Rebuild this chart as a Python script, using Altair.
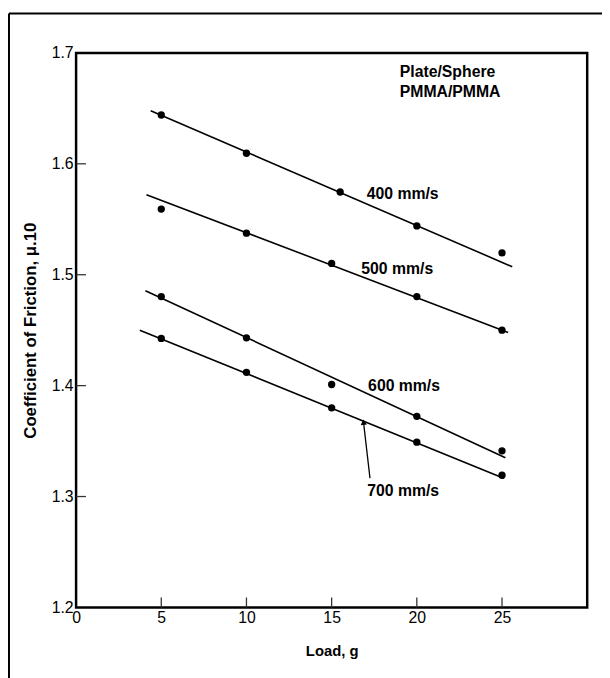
import altair as alt
import pandas as pd

# ---- data ----
load_400 = [5, 10, 15.5, 20, 25]
cof_400 = [1.644, 1.6095, 1.5746, 1.544, 1.5197]
load_500 = [5, 10, 15, 20, 25]
cof_500 = [1.5592, 1.5375, 1.5102, 1.4803, 1.450]
load_600 = [5, 10, 15, 20, 25]
cof_600 = [1.4803, 1.4431, 1.401, 1.3723, 1.3412]
load_700 = [5, 10, 15, 20, 25]
cof_700 = [1.4426, 1.412, 1.380, 1.349, 1.3192]

fit_series = ["400", "500", "600", "700"]
fit_x_start = [4.38, 4.13, 4.07, 3.74]
fit_y_start = [1.6478, 1.5722, 1.4856, 1.45]
fit_x_end = [25.6, 25.36, 25.2, 25.1]
fit_y_end = [1.5072, 1.448, 1.335, 1.3165]

label_text = ["400 mm/s", "500 mm/s", "600 mm/s", "700 mm/s"]
label_x = [19.17, 18.85, 19.25, 19.2]
label_y = [1.573, 1.505, 1.40, 1.3053]

note_lines = ["Plate/Sphere", "PMMA/PMMA"]
note_x = [19.0, 19.0]
note_y = [1.683, 1.665]

arrow_x = [17.25, 16.87]
arrow_y = [1.3166, 1.3671]

x_tick_values = [0, 5, 10, 15, 20, 25]
y_tick_values = [1.2, 1.3, 1.4, 1.5, 1.6, 1.7]
x_inner_ticks = [5, 10, 15, 20, 25]
y_inner_ticks = [1.3, 1.4, 1.5, 1.6]

FONT = "Liberation Sans"
W, H = 518, 562

points = pd.DataFrame({
    "x": load_400 + load_500 + load_600 + load_700,
    "y": cof_400 + cof_500 + cof_600 + cof_700,
})
fits = pd.DataFrame({"s": fit_series, "x": fit_x_start, "y": fit_y_start,
                     "x2": fit_x_end, "y2": fit_y_end})
labels = pd.DataFrame({"t": label_text, "x": label_x, "y": label_y})
notes = pd.DataFrame({"t": note_lines, "x": note_x, "y": note_y})
arrow = pd.DataFrame({"x": [arrow_x[0]], "y": [arrow_y[0]],
                      "x2": [arrow_x[1]], "y2": [arrow_y[1]]})
arrow_head = pd.DataFrame({"x": [arrow_x[1]], "y": [arrow_y[1]]})

xs = alt.Scale(domain=[0, 30], nice=False, zero=False)
ys = alt.Scale(domain=[1.2, 1.7], nice=False, zero=False)

x_axis = alt.Axis(values=x_tick_values, format="d", ticks=False, domain=False,
                  grid=False, labelFont=FONT, labelFontSize=16, labelColor="black",
                  labelPadding=2, labelFlush=False, labelOverlap=False,
                  title="Load, g", titleFont=FONT, titleFontSize=15,
                  titleFontWeight="bold", titleColor="black", titlePadding=19)
y_axis = alt.Axis(values=y_tick_values, format=".1f", ticks=False, domain=False,
                  grid=False, labelFont=FONT, labelFontSize=16, labelColor="black",
                  labelPadding=3, labelFlush=False, labelOverlap=False,
                  title="Coefficient of Friction, μ.10", titleFont=FONT,
                  titleFontSize=17, titleFontWeight="bold", titleColor="black",
                  titlePadding=12)


def X(f="x:Q"):
    return alt.X(f, scale=xs, axis=x_axis)


def Y(f="y:Q"):
    return alt.Y(f, scale=ys, axis=y_axis)


pts = alt.Chart(points).mark_circle(size=55, color="black", opacity=1).encode(
    x=X(), y=Y(),
)

lines = alt.Chart(fits).mark_rule(color="black", strokeWidth=1.6).encode(
    x=X(), y=Y(), x2="x2:Q", y2="y2:Q",
)

lbl = alt.Chart(labels).mark_text(font=FONT, fontSize=16, fontWeight="bold",
                                  color="black", align="center",
                                  baseline="middle").encode(
    x=X(), y=Y(), text="t:N",
)

note = alt.Chart(notes).mark_text(font=FONT, fontSize=16, fontWeight="bold",
                                  color="black", align="left",
                                  baseline="middle").encode(
    x=X(), y=Y(), text="t:N",
)

arr = alt.Chart(arrow).mark_rule(color="black", strokeWidth=1.3).encode(
    x=X(), y=Y(), x2="x2:Q", y2="y2:Q",
)
arr_head = alt.Chart(arrow_head).mark_point(shape="triangle-up", size=40,
                                            filled=True, color="black",
                                            opacity=1, angle=353).encode(
    x=X(), y=Y(),
)

xt = alt.Chart(pd.DataFrame({"x": x_inner_ticks})).mark_rule(
    color="#333", strokeWidth=1.3).encode(
    x=X(), y=alt.value(H), y2=alt.value(H - 10),
)
yt = alt.Chart(pd.DataFrame({"y": y_inner_ticks})).mark_rule(
    color="#333", strokeWidth=1.3).encode(
    y=Y(), x=alt.value(0), x2=alt.value(10),
)

frame_top = alt.Chart(pd.DataFrame({"a": [0]})).mark_rule(
    color="black", strokeWidth=2).encode(
    x=alt.value(-68), x2=alt.value(540), y=alt.value(-40),
)
frame_left = alt.Chart(pd.DataFrame({"a": [0]})).mark_rule(
    color="black", strokeWidth=2).encode(
    x=alt.value(-68), y=alt.value(-40), y2=alt.value(640),
)

chart = alt.layer(pts, lines, lbl, note, arr, arr_head, xt, yt,
                  frame_top, frame_left).properties(
    width=W, height=H,
    autosize=alt.AutoSizeParams(type="none"),
    padding={"left": 69, "top": 41, "right": 15, "bottom": 67},
    background="white",
).configure_view(stroke="black", strokeWidth=2.5)

chart.save("out.html", embed_options={"renderer": "svg", "actions": False})
